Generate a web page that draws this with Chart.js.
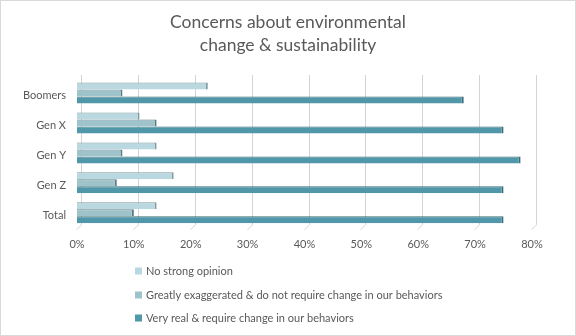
<!DOCTYPE html>
<html>
<head>
<meta charset="utf-8">
<script src="https://cdn.jsdelivr.net/npm/chart.js@4/dist/chart.umd.min.js"></script>
<style>
html,body{margin:0;padding:0;background:#fff;}
#wrap{position:relative;width:576px;height:336px;}
</style>
</head>
<body>
<div id="wrap"><canvas id="c" width="576" height="336"></canvas></div>
<script>
const categories = ["Boomers", "Gen X", "Gen Y", "Gen Z", "Total"];
const noStrongOpinion = [23, 11, 14, 17, 14];
const greatlyExaggerated = [8, 14, 8, 7, 10];
const veryReal = [68, 75, 78, 75, 75];
const seriesLabels = [
  "No strong opinion",
  "Greatly exaggerated & do not require change in our behaviors",
  "Very real & require change in our behaviors"
];
const xTicks = [0, 10, 20, 30, 40, 50, 60, 70, 80];
const titleLines = ["Concerns about environmental", "change & sustainability"];

const FONT = "Lato, 'Open Sans', sans-serif";
const TXT = "#595959";

const depth = 4;

const frame3d = {
  id: "frame3d",
  beforeDatasetsDraw(chart) {
    const ctx = chart.ctx;
    const xs = chart.scales.x;
    const area = chart.chartArea;
    ctx.save();
    ctx.strokeStyle = "#d4d4d4";
    ctx.lineWidth = 1;
    xTicks.forEach(v => {
      const x = Math.round(xs.getPixelForValue(v)) + 0.5;
      ctx.beginPath();
      ctx.moveTo(x + depth, area.top - 3);
      ctx.lineTo(x + depth, area.bottom - 3);
      ctx.lineTo(x - 1, area.bottom + 2);
      ctx.stroke();
    });
    ctx.restore();
  },
  afterDraw(chart) {
    const ctx = chart.ctx;
    ctx.save();
    // outer border
    ctx.strokeStyle = "#d9d9d9";
    ctx.lineWidth = 1;
    ctx.strokeRect(0.5, 0.5, chart.width - 1, chart.height - 1);
    // title
    ctx.fillStyle = TXT;
    ctx.font = "17.5px " + FONT;
    ctx.textAlign = "center";
    ctx.textBaseline = "middle";
    ctx.fillText(titleLines[0], chart.width / 2, 22);
    ctx.fillText(titleLines[1], chart.width / 2, 45);
    // legend (vertical list)
    ctx.font = "11px " + FONT;
    ctx.textBaseline = "middle";
    ctx.textAlign = "left";
    const ys = [271, 295, 318];
    chart.data.datasets.forEach((ds, i) => {
      const y = ys[i];
      ctx.fillStyle = ds.backgroundColor;
      ctx.fillRect(135, y - 3.5, 7, 7);
      ctx.fillStyle = TXT;
      ctx.fillText(ds.label, 146, y);
    });
    ctx.restore();
  }
};

new Chart(document.getElementById("c"), {
  type: "bar",
  data: {
    labels: categories,
    datasets: [
      {
        label: seriesLabels[0],
        data: noStrongOpinion,
        backgroundColor: "#b9d8df",
        borderColor: "#7f9aa1",
        borderWidth: {top: 1, right: 2, bottom: 0, left: 0},
        borderSkipped: false
      },
      {
        label: seriesLabels[1],
        data: greatlyExaggerated,
        backgroundColor: "#9fc3cb",
        borderColor: "#5b7b83",
        borderWidth: {top: 1, right: 2, bottom: 0, left: 0},
        borderSkipped: false
      },
      {
        label: seriesLabels[2],
        data: veryReal,
        backgroundColor: "#5097a9",
        borderColor: "#3a6c79",
        borderWidth: {top: 1, right: 2, bottom: 0, left: 0},
        borderSkipped: false
      }
    ]
  },
  options: {
    indexAxis: "y",
    responsive: false,
    animation: false,
    events: [],
    datasets: {
      bar: {categoryPercentage: 0.7, barPercentage: 1.0}
    },
    layout: {padding: {left: 0, right: 44, top: 78, bottom: 75}},
    plugins: {
      legend: {display: false},
      tooltip: {enabled: false},
      title: {display: false}
    },
    scales: {
      x: {
        min: 0,
        max: 80,
        afterBuildTicks(scale) {
          scale.ticks = xTicks.map(v => ({value: v}));
        },
        grid: {display: false, drawTicks: false},
        border: {display: false},
        ticks: {
          color: TXT,
          font: {family: FONT, size: 11},
          padding: 10,
          callback: v => v + "%"
        }
      },
      y: {
        afterFit(scale) { scale.width = 77; },
        grid: {display: false, drawTicks: false},
        border: {display: false},
        ticks: {
          color: TXT,
          font: {family: FONT, size: 11},
          padding: 11,
          labelOffset: 2.5
        }
      }
    }
  },
  plugins: [frame3d]
});
</script>
</body>
</html>
